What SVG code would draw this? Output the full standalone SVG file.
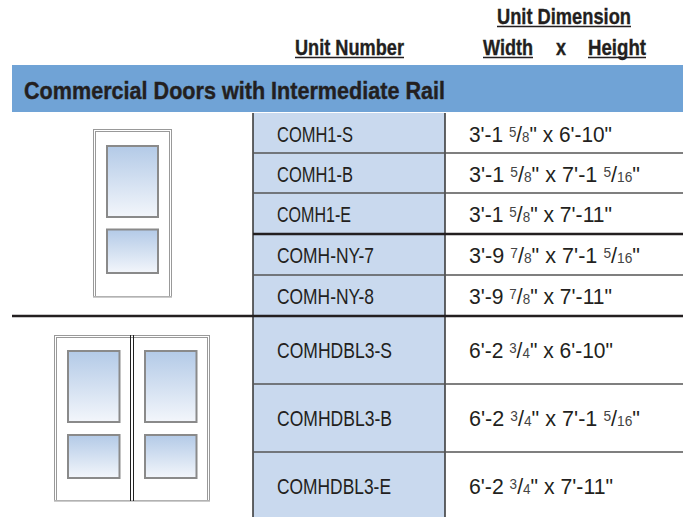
<svg xmlns="http://www.w3.org/2000/svg" width="683" height="517" viewBox="0 0 683 517">
<style>
text{font-family:"Liberation Sans",Arial,sans-serif;fill:#231f20}
.h{font-size:21.500px;font-weight:bold;stroke:#231f20;stroke-width:.35px}
.c{font-size:22px}
.f{font-size:14px;fill:#444}
.s{font-size:14px;fill:#444}
.u{stroke:#231f20;stroke-width:1.400px;fill:none}
.o{fill:#fff;stroke:#999;stroke-width:1}
.g{stroke:#8a8a8a;stroke-width:2;fill:url(#glass)}
</style>
<defs><linearGradient id="glass" x1="0" y1="0" x2="0" y2="1"><stop offset="0" stop-color="#b3cae7"/><stop offset="1" stop-color="#f3f6fb"/></linearGradient></defs>
<rect width="683" height="517" fill="#fff"/>
<g id="headers">
<text class="h" x="497" y="24" textLength="134" lengthAdjust="spacingAndGlyphs">Unit Dimension</text>
<text class="h" x="295" y="55" textLength="109" lengthAdjust="spacingAndGlyphs">Unit Number</text>
<text class="h" x="483" y="55" textLength="50" lengthAdjust="spacingAndGlyphs">Width</text>
<text class="h" x="556" y="55" textLength="10" lengthAdjust="spacingAndGlyphs">x</text>
<text class="h" x="588" y="55" textLength="58" lengthAdjust="spacingAndGlyphs">Height</text>
<path class="u" d="M497 26.500H631M295 57.500H404M483 57.500H533M588 57.500H646"/>
</g>
<g id="band">
<rect x="12" y="65" width="671" height="47" fill="#70a3d6"/>
<text x="24" y="99" font-size="24.500" font-weight="bold" stroke="#231f20" stroke-width=".4" textLength="421" lengthAdjust="spacingAndGlyphs">Commercial Doors with Intermediate Rail</text>
</g>
<g id="table-fill"><rect x="253" y="113" width="192" height="404" fill="#c9d9ee"/></g>
<g id="connectors" fill="none">
<path d="M253 113V517M445 113V517" stroke="#333" stroke-width="1.500"/>
<path d="M253 153H683M253 193H683M253 275H683M253 384H683M253 452H683" stroke="#555" stroke-width="1.300"/>
<path d="M253 234H683M12 316H683" stroke="#231f20" stroke-width="2.400"/>
</g>
<g id="door-single">
<rect class="o" x="93.500" y="129.500" width="78" height="167"/>
<rect class="o" x="95.500" y="131.500" width="74" height="165"/>
<path d="M93 297H172" stroke="#bbb" stroke-width="1.500"/>
<rect class="g" x="107" y="146" width="51" height="71"/>
<rect class="g" x="107" y="229.500" width="51" height="43.500"/>
</g>
<g id="door-double">
<rect class="o" x="54.500" y="335.500" width="155" height="165"/>
<rect class="o" x="56.500" y="337.500" width="151" height="163"/>
<path d="M54 501H210" stroke="#bbb" stroke-width="1.500"/>
<path d="M130.500 335V501M133.500 335V501" stroke="#222" stroke-width="1"/>
<rect class="g" x="68" y="351" width="51.500" height="71"/>
<rect class="g" x="68" y="435" width="51.500" height="43"/>
<rect class="g" x="145" y="351" width="51.500" height="71"/>
<rect class="g" x="145" y="435" width="51.500" height="43"/>
</g>
<g id="row1"><text class="c" x="277" y="142" textLength="76" lengthAdjust="spacingAndGlyphs">COMH1-S</text>
<text class="c" x="469" y="142" textLength="143" lengthAdjust="spacingAndGlyphs">3'-1 <tspan class="s" dy="-5">5</tspan><tspan dy="5">/</tspan><tspan class="f">8</tspan>" x 6'-10"</text></g>
<g id="row2"><text class="c" x="277" y="182" textLength="76" lengthAdjust="spacingAndGlyphs">COMH1-B</text>
<text class="c" x="469" y="182" textLength="171" lengthAdjust="spacingAndGlyphs">3'-1 <tspan class="s" dy="-5">5</tspan><tspan dy="5">/</tspan><tspan class="f">8</tspan>" x 7'-1 <tspan class="s" dy="-5">5</tspan><tspan dy="5">/</tspan><tspan class="f">16</tspan>"</text></g>
<g id="row3"><text class="c" x="277" y="222" textLength="74" lengthAdjust="spacingAndGlyphs">COMH1-E</text>
<text class="c" x="469" y="222" textLength="143" lengthAdjust="spacingAndGlyphs">3'-1 <tspan class="s" dy="-5">5</tspan><tspan dy="5">/</tspan><tspan class="f">8</tspan>" x 7'-11"</text></g>
<g id="row4"><text class="c" x="277" y="263" textLength="97" lengthAdjust="spacingAndGlyphs">COMH-NY-7</text>
<text class="c" x="469" y="263" textLength="171" lengthAdjust="spacingAndGlyphs">3'-9 <tspan class="s" dy="-5">7</tspan><tspan dy="5">/</tspan><tspan class="f">8</tspan>" x 7'-1 <tspan class="s" dy="-5">5</tspan><tspan dy="5">/</tspan><tspan class="f">16</tspan>"</text></g>
<g id="row5"><text class="c" x="277" y="304" textLength="97" lengthAdjust="spacingAndGlyphs">COMH-NY-8</text>
<text class="c" x="469" y="304" textLength="143" lengthAdjust="spacingAndGlyphs">3'-9 <tspan class="s" dy="-5">7</tspan><tspan dy="5">/</tspan><tspan class="f">8</tspan>" x 7'-11"</text></g>
<g id="row6"><text class="c" x="277" y="358" textLength="115" lengthAdjust="spacingAndGlyphs">COMHDBL3-S</text>
<text class="c" x="469" y="358" textLength="144" lengthAdjust="spacingAndGlyphs">6'-2 <tspan class="s" dy="-5">3</tspan><tspan dy="5">/</tspan><tspan class="f">4</tspan>" x 6'-10"</text></g>
<g id="row7"><text class="c" x="277" y="426" textLength="115" lengthAdjust="spacingAndGlyphs">COMHDBL3-B</text>
<text class="c" x="469" y="426" textLength="171" lengthAdjust="spacingAndGlyphs">6'-2 <tspan class="s" dy="-5">3</tspan><tspan dy="5">/</tspan><tspan class="f">4</tspan>" x 7'-1 <tspan class="s" dy="-5">5</tspan><tspan dy="5">/</tspan><tspan class="f">16</tspan>"</text></g>
<g id="row8"><text class="c" x="277" y="494" textLength="114" lengthAdjust="spacingAndGlyphs">COMHDBL3-E</text>
<text class="c" x="469" y="494" textLength="144" lengthAdjust="spacingAndGlyphs">6'-2 <tspan class="s" dy="-5">3</tspan><tspan dy="5">/</tspan><tspan class="f">4</tspan>" x 7'-11"</text></g>
</svg>
